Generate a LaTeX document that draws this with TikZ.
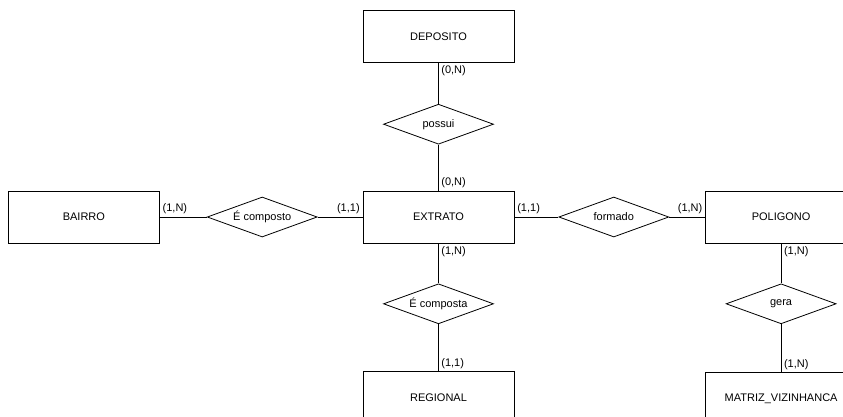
\documentclass[tikz,border=0pt]{standalone}
\usepackage{fontspec}
\setmainfont{Liberation Sans}
\usepackage{tikz}
\usetikzlibrary{positioning,shapes.geometric}

\begin{document}
\begin{tikzpicture}[%
    x=1pt,y=1pt,line width=0.8pt,font=\fontsize{11}{13}\selectfont,
    entidade/.style={%
      rectangle,draw,minimum width=151pt,minimum height=52pt},
    relac/.style={%
      diamond,draw,aspect=2.75,inner sep=0pt,minimum width=110pt,minimum height=40pt},
    card/.style={inner sep=2.5pt}
  ]
    \useasboundingbox (0,0) rectangle (843,-416);
    \node[entidade] (extrato) at (438.5,-217)                  {EXTRATO};
    \node[relac]    (possui)    [above=46pt of extrato]      {possui};
    \node[entidade] (deposito)  [above=41pt of possui]       {DEPOSITO};
    \node[relac]    (ecomposto) [left=45pt of extrato]       {É composto};
    \node[entidade] (bairro)    [left=47pt of ecomposto]     {BAIRRO};
    \node[relac]    (formado)   [right=44pt of extrato]      {formado};
    \node[entidade] (poligono)  [right=36pt of formado]      {POLIGONO};
    \node[relac]    (ecomposta) [below=40pt of extrato]      {É composta};
    \node[entidade] (regional)  [below=47pt of ecomposta]    {REGIONAL};
    \node[relac]    (gera)      [below=40pt of poligono]     {gera};
    \node[entidade] (matriz)    [below=48pt of gera]         {MATRIZ\_VIZINHANCA};
    \path (deposito)  edge node[card,pos=0,anchor=north west] {(0,N)} (possui)
          (possui)    edge node[card,pos=1,anchor=south west] {(0,N)} (extrato)
          (bairro)    edge node[card,pos=0,anchor=south west] {(1,N)} (ecomposto)
          (ecomposto) edge node[card,pos=1,anchor=south east] {(1,1)} (extrato)
          (extrato)   edge node[card,pos=0,anchor=south west] {(1,1)} (formado)
          (formado)   edge node[card,pos=1,anchor=south east] {(1,N)} (poligono)
          (extrato)   edge node[card,pos=0,anchor=north west] {(1,N)} (ecomposta)
          (ecomposta) edge node[card,pos=1,anchor=south west] {(1,1)} (regional)
          (poligono)  edge node[card,pos=0,anchor=north west] {(1,N)} (gera)
          (gera)      edge node[card,pos=1,anchor=south west] {(1,N)} (matriz)
          ;
\end{tikzpicture}
\end{document}
